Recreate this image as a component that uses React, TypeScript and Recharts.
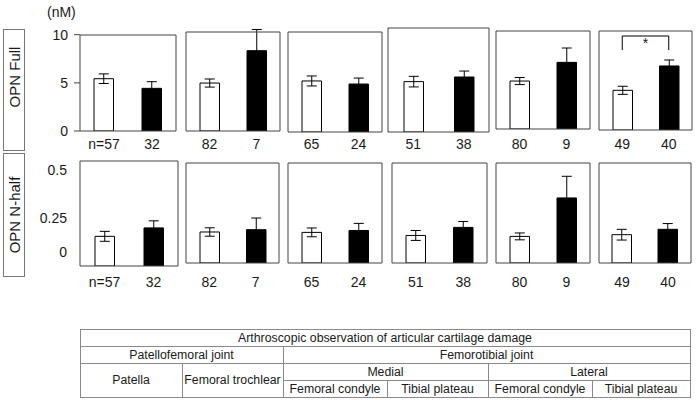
import React from 'react';
import { BarChart, Bar, XAxis, YAxis, ErrorBar, ReferenceLine, Cell } from 'recharts';

// ---- data ----
const regions = ['Patella', 'Femoral trochlear', 'Medial femoral condyle', 'Medial tibial plateau', 'Lateral femoral condyle', 'Lateral tibial plateau'];
const nNoDamage = [57, 82, 65, 51, 80, 49];
const nDamage = [32, 7, 24, 38, 9, 40];

const fullNoDamage = [5.43, 4.98, 5.3, 5.23, 4.98, 4.12];
const fullNoDamageSE = [0.5, 0.42, 0.52, 0.55, 0.37, 0.42];
const fullDamage = [4.43, 8.34, 4.98, 5.71, 6.92, 6.65];
const fullDamageSE = [0.69, 2.2, 0.62, 0.62, 1.49, 0.62];

const halfNoDamage = [0.155, 0.162, 0.16, 0.144, 0.139, 0.148];
const halfNoDamageSE = [0.026, 0.022, 0.023, 0.026, 0.018, 0.028];
const halfDamage = [0.199, 0.174, 0.17, 0.186, 0.34, 0.176];
const halfDamageSE = [0.037, 0.061, 0.037, 0.031, 0.113, 0.03];

const fullTicks = [0, 5, 10];
const halfTicks = [0, 0.25, 0.5];
const significance = [false, false, false, false, false, true];
const bracketLevels = [9.76, 8.3];

// ---- layout ----
const BOX = '#444';
const TXT = '#1a1a1a';
const FONT = '"Liberation Sans", Arial, Helvetica, sans-serif';

const topBoxes = [
  { l: 80, r: 176, t: 35, b: 131 },
  { l: 186, r: 280, t: 32, b: 131 },
  { l: 288, r: 382, t: 32, b: 132 },
  { l: 388, r: 489, t: 28, b: 132 },
  { l: 496, r: 590, t: 31, b: 129 },
  { l: 599, r: 692, t: 31, b: 130 },
];
const bottomBoxes = [
  { l: 80, r: 178, t: 161, b: 266 },
  { l: 186, r: 279, t: 163, b: 263 },
  { l: 288, r: 382, t: 163, b: 263 },
  { l: 392, r: 487, t: 163, b: 263 },
  { l: 496, r: 590, t: 163, b: 263 },
  { l: 599, r: 691, t: 163, b: 263 },
];
const topPxPerUnit = 9.63;
const bottomPxPerUnit = 191.4;
const topLabelCenter = 144;
const bottomLabelCenter = 282;

type Box = { l: number; r: number; t: number; b: number };

function makeData(i: number, no: number[], noSE: number[], dmg: number[], dmgSE: number[]) {
  return [
    { cat: i === 0 ? `n=${nNoDamage[i]}` : String(nNoDamage[i]), value: no[i], se: noSE[i], fill: '#ffffff' },
    { cat: String(nDamage[i]), value: dmg[i], se: dmgSE[i], fill: '#000000' },
  ];
}

function Panel(props: {
  box: Box;
  data: any[];
  pxPerUnit: number;
  showY: boolean;
  ticks: number[];
  tickLine: boolean;
  labelCenter: number;
  zeroShift: number;
  bracket: boolean;
}) {
  const { box, data, pxPerUnit, showY, ticks, tickLine, labelCenter, zeroShift, bracket } = props;
  const L = showY ? 70 : 3;
  const R = 3;
  const T = 8;
  const B = 30;
  const pw = box.r - box.l;
  const ph = box.b - box.t;
  const yMax = ph / pxPerUnit;
  const labelOffset = labelCenter - box.b - 5;

  const renderTick = (p: any) => (
    <text
      x={p.x}
      y={p.y + (p.payload.value === 0 ? zeroShift : 0)}
      dy="0.355em"
      textAnchor="end"
      fontSize={14}
      fill={TXT}
      fontFamily={FONT}
    >
      {String(p.payload.value)}
    </text>
  );

  const c0 = data[0].cat;
  const c1 = data[1].cat;

  return (
    <div style={{ position: 'absolute', left: box.l - L, top: box.t - T }}>
      <BarChart width={pw + L + R} height={ph + T + B} data={data} margin={{ top: 0, right: 0, bottom: 0, left: 0 }}>
        <XAxis
          dataKey="cat"
          xAxisId="b"
          orientation="bottom"
          height={B}
          interval={0}
          tickLine={false}
          tickSize={0}
          tickMargin={labelOffset}
          axisLine={{ stroke: BOX }}
          tick={{ fontSize: 14, fill: TXT, fontFamily: FONT }}
        />
        <XAxis dataKey="cat" xAxisId="t" orientation="top" height={T} tick={false} tickLine={false} axisLine={{ stroke: BOX }} />
        <YAxis
          yAxisId="l"
          width={L}
          domain={[0, yMax]}
          allowDataOverflow
          ticks={ticks}
          interval={0}
          tick={showY ? renderTick : false}
          tickLine={showY && tickLine ? { stroke: BOX } : false}
          tickSize={tickLine ? 6 : 0}
          tickMargin={tickLine ? 6 : 13}
          axisLine={{ stroke: BOX }}
        />
        <YAxis yAxisId="r" orientation="right" width={R} domain={[0, 1]} tick={false} tickLine={false} axisLine={{ stroke: BOX }} />
        <Bar xAxisId="b" yAxisId="l" dataKey="value" barSize={19.5} stroke="#000" strokeWidth={1} isAnimationActive={false}>
          {data.map((d, i) => (
            <Cell key={i} fill={d.fill} />
          ))}
          <ErrorBar dataKey="se" width={5} stroke="#000" strokeWidth={1} direction="y" isAnimationActive={false} />
        </Bar>
        {bracket && (
          <ReferenceLine
            xAxisId="b"
            yAxisId="l"
            segment={[{ x: c0, y: bracketLevels[0] }, { x: c1, y: bracketLevels[0] }]}
            stroke="#000"
            strokeWidth={1}
            ifOverflow="visible"
            label={{ value: '*', position: 'bottom', offset: 2, fontSize: 14, fill: TXT, fontFamily: FONT }}
          />
        )}
        {bracket && (
          <ReferenceLine
            xAxisId="b"
            yAxisId="l"
            segment={[{ x: c0, y: bracketLevels[0] }, { x: c0, y: bracketLevels[1] }]}
            stroke="#000"
            strokeWidth={1}
            ifOverflow="visible"
          />
        )}
        {bracket && (
          <ReferenceLine
            xAxisId="b"
            yAxisId="l"
            segment={[{ x: c1, y: bracketLevels[0] }, { x: c1, y: bracketLevels[1] }]}
            stroke="#000"
            strokeWidth={1}
            ifOverflow="visible"
          />
        )}
      </BarChart>
    </div>
  );
}

const LINE = '#8a8a8a';
function HLine({ x1, x2, y }: { x1: number; x2: number; y: number }) {
  return <div style={{ position: 'absolute', left: x1, top: y, width: x2 - x1 + 1, height: 1, background: LINE }} />;
}
function VLine({ x, y1, y2 }: { x: number; y1: number; y2: number }) {
  return <div style={{ position: 'absolute', left: x, top: y1, width: 1, height: y2 - y1 + 1, background: LINE }} />;
}
function TCell({ text, x1, x2, y1, y2 }: { text: string; x1: number; x2: number; y1: number; y2: number }) {
  return (
    <div
      style={{
        position: 'absolute',
        left: x1,
        top: y1,
        width: x2 - x1,
        height: y2 - y1,
        display: 'flex',
        alignItems: 'center',
        justifyContent: 'center',
        fontSize: 12.3,
        color: TXT,
        whiteSpace: 'nowrap',
      }}
    >
      {text}
    </div>
  );
}

const tableX = [80, 182, 283, 387, 488, 592, 690];
const tableY = [329, 346, 363, 380, 397];

function RowLabel({ text, top, height, center }: { text: string; top: number; height: number; center: number }) {
  return (
    <div style={{ position: 'absolute', left: 3, top, width: 20, height, border: '1px solid #777' }}>
      <div
        style={{
          position: 'absolute',
          left: '50%',
          top: center - top,
          transform: 'translate(-50%, -50%) rotate(-90deg)',
          fontSize: 15,
          color: TXT,
          whiteSpace: 'nowrap',
        }}
      >
        {text}
      </div>
    </div>
  );
}

export default function App() {
  return (
    <div style={{ position: 'fixed', left: 0, top: 0, width: 697, height: 400, background: '#fff', fontFamily: FONT, overflow: 'hidden' }}>
      <div style={{ position: 'absolute', left: 47, top: 3, fontSize: 14, color: TXT, lineHeight: '18px' }}>(nM)</div>

      <RowLabel text="OPN Full" top={29} height={120} center={76} />
      <RowLabel text="OPN N-half" top={153} height={122} center={214} />

      {regions.map((r, i) => (
        <Panel
          key={'top' + r}
          box={topBoxes[i]}
          data={makeData(i, fullNoDamage, fullNoDamageSE, fullDamage, fullDamageSE)}
          pxPerUnit={topPxPerUnit}
          showY={i === 0}
          ticks={fullTicks}
          tickLine={true}
          labelCenter={topLabelCenter}
          zeroShift={0}
          bracket={significance[i]}
        />
      ))}
      {regions.map((r, i) => (
        <Panel
          key={'bot' + r}
          box={bottomBoxes[i]}
          data={makeData(i, halfNoDamage, halfNoDamageSE, halfDamage, halfDamageSE)}
          pxPerUnit={bottomPxPerUnit}
          showY={i === 0}
          ticks={halfTicks}
          tickLine={false}
          labelCenter={bottomLabelCenter}
          zeroShift={-14}
          bracket={false}
        />
      ))}

      {/* table */}
      <HLine x1={tableX[0]} x2={tableX[6]} y={tableY[0]} />
      <HLine x1={tableX[0]} x2={tableX[6]} y={tableY[1]} />
      <HLine x1={tableX[0]} x2={tableX[6]} y={tableY[2]} />
      <HLine x1={tableX[2]} x2={tableX[6]} y={tableY[3]} />
      <HLine x1={tableX[0]} x2={tableX[6]} y={tableY[4]} />
      <VLine x={tableX[0]} y1={tableY[0]} y2={tableY[4]} />
      <VLine x={tableX[6]} y1={tableY[0]} y2={tableY[4]} />
      <VLine x={tableX[2]} y1={tableY[1]} y2={tableY[4]} />
      <VLine x={tableX[1]} y1={tableY[2]} y2={tableY[4]} />
      <VLine x={tableX[4]} y1={tableY[2]} y2={tableY[4]} />
      <VLine x={tableX[3]} y1={tableY[3]} y2={tableY[4]} />
      <VLine x={tableX[5]} y1={tableY[3]} y2={tableY[4]} />

      <TCell text="Arthroscopic observation of articular cartilage damage" x1={tableX[0]} x2={tableX[6]} y1={tableY[0]} y2={tableY[1]} />
      <TCell text="Patellofemoral joint" x1={tableX[0]} x2={tableX[2]} y1={tableY[1]} y2={tableY[2]} />
      <TCell text="Femorotibial joint" x1={tableX[2]} x2={tableX[6]} y1={tableY[1]} y2={tableY[2]} />
      <TCell text="Patella" x1={tableX[0]} x2={tableX[1]} y1={tableY[2]} y2={tableY[4]} />
      <TCell text="Femoral trochlear" x1={tableX[1]} x2={tableX[2]} y1={tableY[2]} y2={tableY[4]} />
      <TCell text="Medial" x1={tableX[2]} x2={tableX[4]} y1={tableY[2]} y2={tableY[3]} />
      <TCell text="Lateral" x1={tableX[4]} x2={tableX[6]} y1={tableY[2]} y2={tableY[3]} />
      <TCell text="Femoral condyle" x1={tableX[2]} x2={tableX[3]} y1={tableY[3]} y2={tableY[4]} />
      <TCell text="Tibial plateau" x1={tableX[3]} x2={tableX[4]} y1={tableY[3]} y2={tableY[4]} />
      <TCell text="Femoral condyle" x1={tableX[4]} x2={tableX[5]} y1={tableY[3]} y2={tableY[4]} />
      <TCell text="Tibial plateau" x1={tableX[5]} x2={tableX[6]} y1={tableY[3]} y2={tableY[4]} />
    </div>
  );
}
